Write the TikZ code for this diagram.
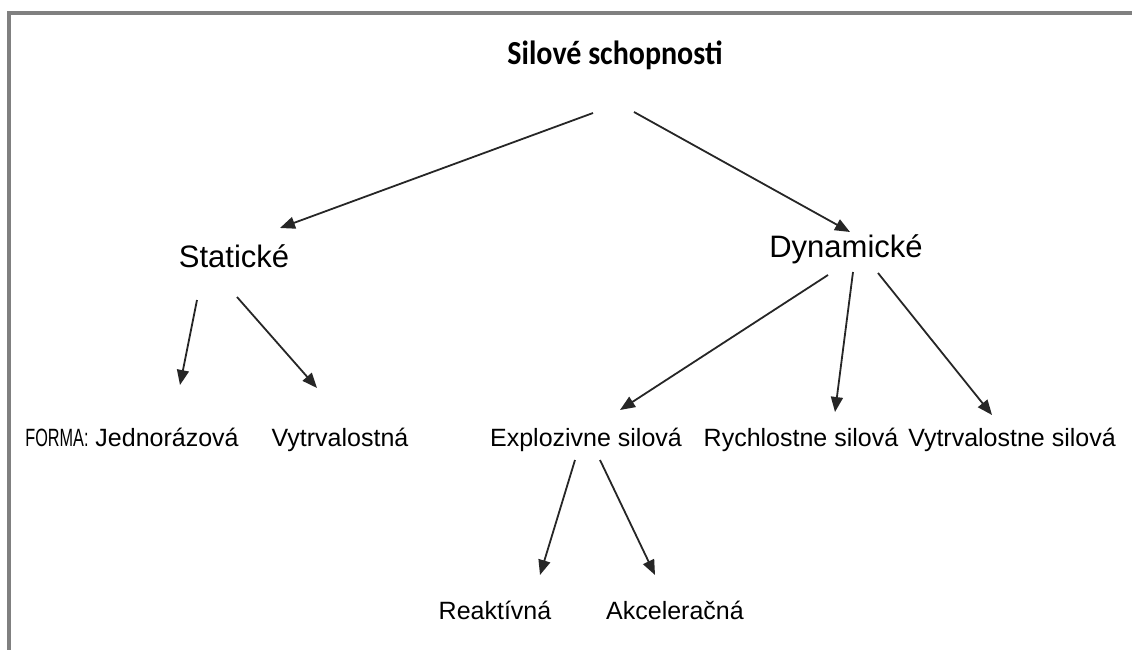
\documentclass[tikz,border=0pt]{standalone}
\usepackage{fontspec}
\setmainfont{Liberation Sans}
\newfontfamily\titlefont{Carlito}
\usetikzlibrary{arrows.meta,calc}
\begin{document}
\begin{tikzpicture}[x=1pt,y=-1pt,
  lvtwo/.style={anchor=base,inner sep=0pt,font=\fontsize{31}{36}\selectfont},
  lvthree/.style={anchor=base,inner sep=0pt,font=\fontsize{25}{30}\selectfont},
  ttl/.style={anchor=base,inner sep=0pt,font=\titlefont\bfseries\fontsize{30}{34}\selectfont},
  arr/.style={draw=black!85,line width=1.8pt,-{Triangle[length=15pt,width=12pt]}},
  frame/.style={draw=black!50,line width=3.5pt}]
\useasboundingbox (0,0) rectangle (1132,650);
\draw[frame] (1132,13) -- (9,13) -- (9,650);
\node[ttl] (title) at (615,65) {\scalebox{1}[1.12]{Silové schopnosti}};
\node[lvtwo] (stat) at (234,267) {Statické};
\node[lvtwo] (dyn) at (846,257) {Dynamické};
\node[lvthree] (jed) at (132,446) {\scalebox{0.65}[1]{FORMA:} Jednorázová};
\node[lvthree] (vyt) at (340,446) {Vytrvalostná};
\node[lvthree] (exp) at (586,446) {Explozivne silová};
\node[lvthree] (ryc) at (801,446) {Rychlostne silová};
\node[lvthree] (vyts) at (1012,446) {Vytrvalostne silová};
\node[lvthree] (rea) at (495,619) {Reaktívná};
\node[lvthree] (akc) at (675,619) {Akceleračná};
\draw[arr] ([shift={(-22,48)}]title.base) -- ([shift={(46,-39)}]stat.base);
\draw[arr] ([shift={(19,47)}]title.base) -- ([shift={(4,-25)}]dyn.base);
\draw[arr] ([shift={(-37,33)}]stat.base) -- ([shift={(48,-61)}]jed.base);
\draw[arr] ([shift={(3,30)}]stat.base) -- ([shift={(-23,-58)}]vyt.base);
\draw[arr] ([shift={(-18,18)}]dyn.base) -- ([shift={(34,-36)}]exp.base);
\draw[arr] ([shift={(7,15)}]dyn.base) -- ([shift={(34,-34)}]ryc.base);
\draw[arr] ([shift={(32,16)}]dyn.base) -- ([shift={(-20,-31)}]vyts.base);
\draw[arr] ([shift={(-11,14)}]exp.base) -- ([shift={(45,-44)}]rea.base);
\draw[arr] ([shift={(14,14)}]exp.base) -- ([shift={(-20,-44)}]akc.base);
\end{tikzpicture}
\end{document}
